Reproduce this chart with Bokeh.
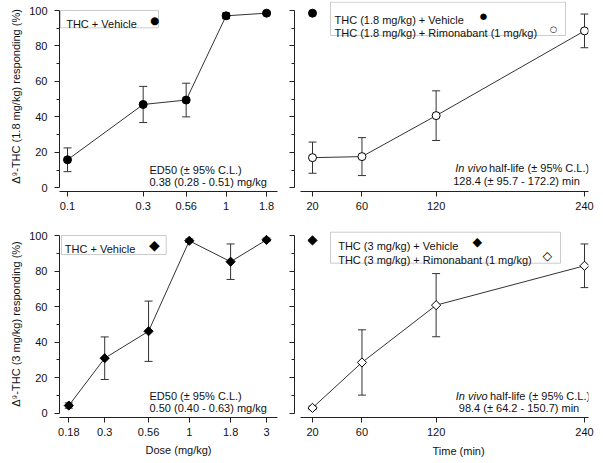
import math
from bokeh.plotting import figure
from bokeh.models import (ColumnDataSource, Whisker, TeeHead, FixedTicker, Label,
                          Range1d, CustomJSTickFormatter, BoxAnnotation, Title)
from bokeh.layouts import column, row
from bokeh.embed import file_html
from bokeh.resources import INLINE

FONT = "Liberation Sans"
SYM = "DejaVu Sans"
AX = "#222222"
LN = "#333333"
TXT = "#111111"

# ---------------- data ----------------
dose_a = [0.1, 0.3, 0.56, 1, 1.8]
resp_a = [15.8, 47.0, 49.5, 97.0, 98.5]
err_a = [6.7, 10.2, 9.5, 1.6, 0.8]

time_a = [20, 60, 120, 240]
rimo_a = [17.0, 17.6, 40.7, 88.5]
rimo_err_a = [8.8, 10.7, 14.0, 9.5]
veh_time_a = [20]
veh_a = [98.5]

dose_b = [0.18, 0.3, 0.56, 1, 1.8, 3]
resp_b = [4.3, 31.0, 46.2, 97.2, 85.4, 97.7]
err_b = [1.5, 12.0, 17.0, 1.0, 10.0, 1.0]

time_b = [20, 60, 120, 240]
rimo_b = [3.0, 28.6, 60.9, 83.1]
rimo_err_b = [1.0, 18.4, 17.8, 12.3]
veh_time_b = [20]
veh_b = [97.4]

dose_ticks_a = [0.1, 0.3, 0.56, 1, 1.8]
dose_labels_a = ["0.1", "0.3", "0.56", "1", "1.8"]
dose_ticks_b = [0.18, 0.3, 0.56, 1, 1.8, 3]
dose_labels_b = ["0.18", "0.3", "0.56", "1", "1.8", "3"]
time_ticks = [20, 60, 120, 240]
time_labels = ["20", "60", "120", "240"]
y_ticks = [0, 20, 40, 60, 80, 100]
y_minor = [10, 30, 50, 70, 90]

ylab_a = "\u0394\u2079-THC (1.8 mg/kg) responding (%)"
ylab_b = "\u0394\u2079-THC (3 mg/kg) responding (%)"
xlab_dose = "Dose (mg/kg)"
xlab_time = "Time (min)"


# ---------- pixel -> data helpers (layout positions only) ----------
def yA(py):
    return (187.3 - py) / 1.773


def yB(py):
    return (412.7 - py) / 1.774


def xTL(px):
    return 10 ** (-1 + (px - 67) / 158.6)


def xBL(px):
    return 10 ** (math.log10(0.18) + (px - 68.3) / 161.8)


def xR(px):
    return 20 + (px - 312) / 1.2364


def style_axis(ax):
    ax.axis_line_color = AX
    ax.axis_line_width = 1
    ax.major_tick_line_color = AX
    ax.minor_tick_line_color = AX
    ax.major_tick_in = 0
    ax.major_tick_out = 5
    ax.minor_tick_in = 0
    ax.minor_tick_out = 3
    ax.major_label_text_font = FONT
    ax.major_label_text_font_size = "11px"
    ax.major_label_text_color = TXT
    ax.axis_label_text_font = FONT
    ax.axis_label_text_font_size = "11px"
    ax.axis_label_text_font_style = "normal"
    ax.axis_label_text_color = TXT


def make_fig(w, h, xr, yr, xtype, bl, br, bt, bb):
    p = figure(width=w, height=h, x_range=xr, y_range=yr, x_axis_type=xtype,
               output_backend="svg", toolbar_location=None,
               min_border_left=bl, min_border_right=br,
               min_border_top=bt, min_border_bottom=bb)
    p.grid.visible = False
    p.outline_line_color = None
    p.background_fill_color = "white"
    p.border_fill_color = "white"
    style_axis(p.xaxis[0])
    style_axis(p.yaxis[0])
    p.yaxis.ticker = FixedTicker(ticks=y_ticks, minor_ticks=y_minor)
    p.yaxis.bounds = (0, 100)
    p.yaxis.major_label_standoff = 7
    p.xaxis.major_label_standoff = 5
    return p


def hide_y_labels(p):
    p.yaxis.major_label_text_font_size = "0px"
    p.yaxis.major_label_text_color = None
    p.yaxis.major_label_standoff = 0


def add_err(p, xs, ys, es):
    src = ColumnDataSource(dict(x=xs, upper=[y + e for y, e in zip(ys, es)],
                                lower=[y - e for y, e in zip(ys, es)]))
    w = Whisker(source=src, base="x", upper="upper", lower="lower", dimension="height",
                line_color=LN, line_width=1, level="underlay",
                upper_head=TeeHead(size=8, line_color=LN, line_width=1),
                lower_head=TeeHead(size=8, line_color=LN, line_width=1))
    p.add_layout(w)


def text_label(p, x, y, text, align="left", style="normal", size="11px", font=FONT,
               baseline="alphabetic", color=TXT):
    p.add_layout(Label(x=x, y=y, text=text, text_align=align, text_baseline=baseline,
                       text_font=font, text_font_size=size, text_color=color,
                       text_font_style=style))


def legend_box(p, left, right, top, bottom):
    p.add_layout(BoxAnnotation(left=left, right=right, top=top, bottom=bottom,
                               fill_color="white", fill_alpha=1.0,
                               line_color="#555555", line_width=1, level="annotation"))


def sym(p, x, y, ch, size):
    text_label(p, x, y, ch, align="center", size=size, font=SYM, baseline="middle",
               color="black")


def x_title(p, text, offset, standoff):
    p.add_layout(Title(text=text, align="left", offset=offset, standoff=standoff,
                       text_font=FONT, text_font_size="11px", text_font_style="normal",
                       text_color=TXT), "below")


# ---------------- top-left ----------------
p1 = make_fig(286, 230, Range1d(xTL(59), xTL(277)), Range1d(yA(191), yA(1)), "log",
              59, 9, 1, 39)
p1.xaxis.ticker = FixedTicker(ticks=dose_ticks_a, minor_ticks=[])
p1.xaxis.formatter = CustomJSTickFormatter(code="return tick.toString();")
p1.xaxis.major_label_overrides = dict(zip(dose_ticks_a, dose_labels_a))
p1.yaxis.axis_label = ylab_a
p1.yaxis.axis_label_standoff = 4
add_err(p1, dose_a, resp_a, err_a)
p1.line(dose_a, resp_a, line_color=LN, line_width=1)
p1.scatter(dose_a, resp_a, marker="circle", size=8, fill_color="black", line_color="black")
legend_box(p1, xTL(60), xTL(158), yA(10), yA(27.3))
text_label(p1, xTL(65.7), yA(23.8), "THC + Vehicle")
sym(p1, xTL(154), yA(19.0), "\u25cf", "10.5px")
text_label(p1, xTL(149), yA(169.7), "ED50 (\u00b1 95% C.L.)")
text_label(p1, xTL(149), yA(181.5), "0.38 (0.28 - 0.51) mg/kg")

# ---------------- top-right ----------------
p2 = make_fig(317, 230, Range1d(xR(294), xR(588)), Range1d(yA(191), yA(1)), "linear",
              8, 15, 1, 39)
p2.xaxis.ticker = FixedTicker(ticks=time_ticks, minor_ticks=[])
p2.xaxis.major_label_overrides = dict(zip(time_ticks, time_labels))
p2.xaxis.bounds = (xR(300), xR(588))
hide_y_labels(p2)
add_err(p2, time_a, rimo_a, rimo_err_a)
p2.line(time_a, rimo_a, line_color=LN, line_width=1)
p2.scatter(time_a, rimo_a, marker="circle", size=8, fill_color="white", line_color="black")
p2.scatter(veh_time_a, veh_a, marker="circle", size=8, fill_color="black", line_color="black")
legend_box(p2, xR(330), xR(565), yA(1.7), yA(35))
text_label(p2, xR(334), yA(19.3), "THC (1.8 mg/kg) + Vehicle")
text_label(p2, xR(334), yA(32.7), "THC (1.8 mg/kg) + Rimonabant (1 mg/kg)")
sym(p2, xR(483), yA(15.3), "\u25cf", "8.5px")
sym(p2, xR(553), yA(28.8), "\u25cb", "8.5px")
text_label(p2, xR(486.5), yA(167.7), "In vivo", align="right", style="italic")
text_label(p2, xR(488.5), yA(167.7), "half-life (\u00b1 95% C.L.)")
text_label(p2, xR(516), yA(180), "128.4 (\u00b1 95.7 - 172.2) min", align="center")

# ---------------- bottom-left ----------------
p3 = make_fig(286, 233, Range1d(xBL(59), xBL(277)), Range1d(yB(417), yB(230)), "log",
              59, 9, 0, 46)
p3.xaxis.ticker = FixedTicker(ticks=dose_ticks_b, minor_ticks=[])
p3.xaxis.formatter = CustomJSTickFormatter(code="return tick.toString();")
p3.xaxis.major_label_overrides = dict(zip(dose_ticks_b, dose_labels_b))
p3.yaxis.axis_label = ylab_b
p3.yaxis.axis_label_standoff = 4
x_title(p3, xlab_dose, 86, 6)
add_err(p3, dose_b, resp_b, err_b)
p3.line(dose_b, resp_b, line_color=LN, line_width=1)
p3.scatter(dose_b, resp_b, marker="square", size=6.5, angle=0.785398,
           fill_color="black", line_color="black")
legend_box(p3, xBL(61), xBL(165.7), yB(235), yB(254))
text_label(p3, xBL(64.3), yB(248.3), "THC + Vehicle")
sym(p3, xBL(154), yB(244), "\u25c6", "14px")
text_label(p3, xBL(149), yB(395), "ED50 (\u00b1 95% C.L.)")
text_label(p3, xBL(149), yB(407.3), "0.50 (0.40 - 0.63) mg/kg")

# ---------------- bottom-right ----------------
p4 = make_fig(317, 233, Range1d(xR(294), xR(588)), Range1d(yB(417), yB(230)), "linear",
              8, 15, 0, 46)
p4.xaxis.ticker = FixedTicker(ticks=time_ticks, minor_ticks=[])
p4.xaxis.major_label_overrides = dict(zip(time_ticks, time_labels))
p4.xaxis.bounds = (xR(300), xR(588))
hide_y_labels(p4)
x_title(p4, xlab_time, 138, 9)
add_err(p4, time_b, rimo_b, rimo_err_b)
p4.line(time_b, rimo_b, line_color=LN, line_width=1)
p4.scatter(time_b, rimo_b, marker="square", size=6.5, angle=0.785398,
           fill_color="white", line_color="black")
p4.scatter(veh_time_b, veh_b, marker="square", size=6.5, angle=0.785398,
           fill_color="black", line_color="black")
legend_box(p4, xR(330), xR(560), yB(231.7), yB(262.7))
text_label(p4, xR(337.7), yB(245), "THC (3 mg/kg) + Vehicle")
text_label(p4, xR(337.7), yB(259), "THC (3 mg/kg) + Rimonabant (1 mg/kg)")
sym(p4, xR(476.7), yB(241), "\u25c6", "12.5px")
sym(p4, xR(546.7), yB(254.7), "\u25c7", "12.5px")
text_label(p4, xR(487), yB(395.7), "In vivo", align="right", style="italic")
text_label(p4, xR(489.5), yB(395.7), "half-life (\u00b1 95% C.L.)")
text_label(p4, xR(518.5), yB(407.7), "98.4 (\u00b1 64.2 - 150.7) min", align="center")

layout = column(row(p1, p2, spacing=0), row(p3, p4, spacing=0), spacing=0)

with open("out.html", "w") as f:
    f.write(file_html(layout, INLINE))
